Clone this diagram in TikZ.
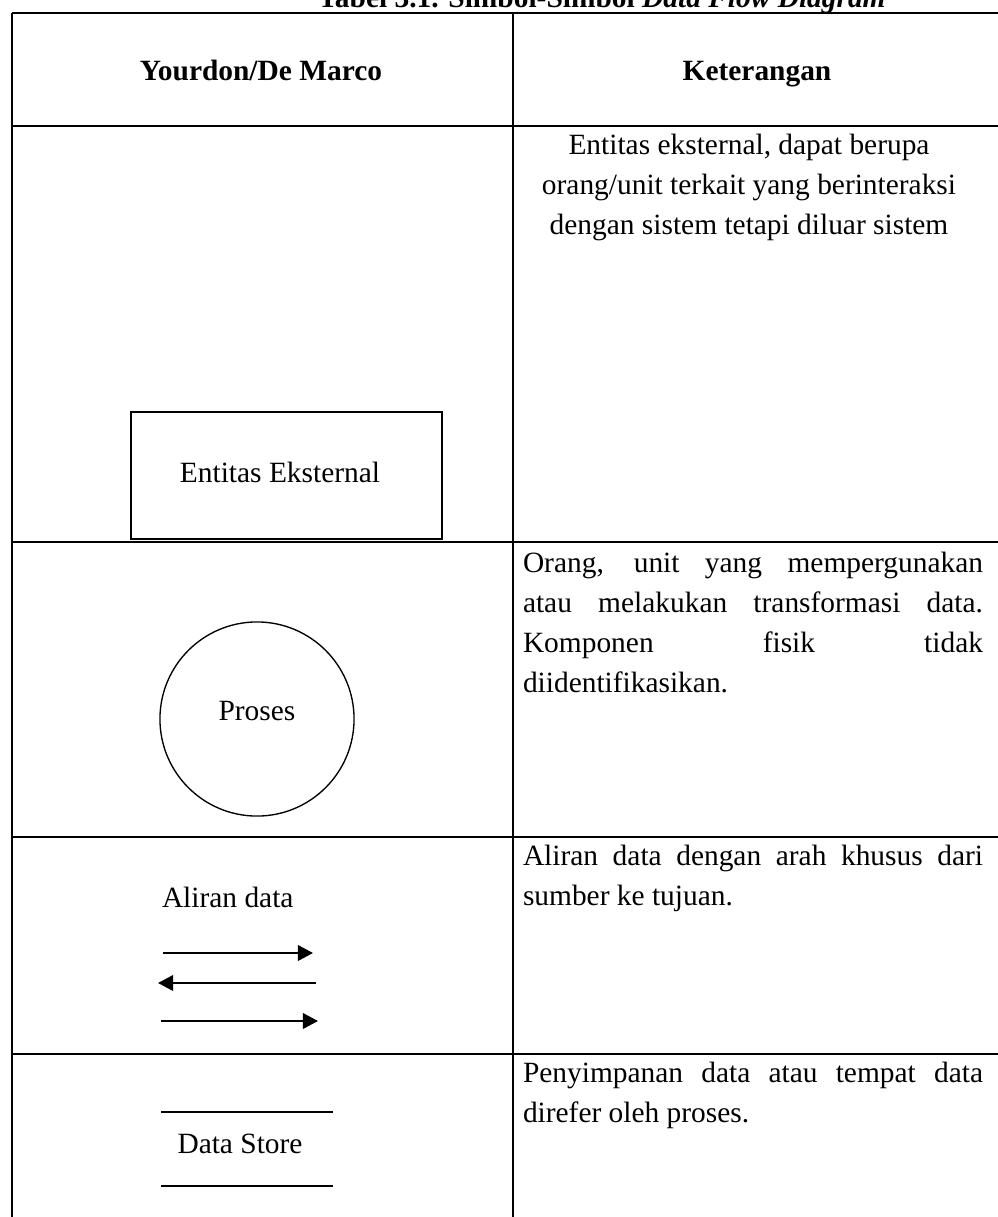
\documentclass[tikz,border=0pt]{standalone}
\usepackage{fontspec}
\setmainfont{Liberation Serif}
\usetikzlibrary{arrows.meta}
\newlength{\celltext}
\setlength{\celltext}{187.7pt}
\begin{document}
\begin{tikzpicture}[x=0.408pt,y=-0.408pt,
  every node/.style={font=\fontsize{12pt}{14pt}\selectfont, inner sep=0pt, outer sep=0pt},
  rule/.style={line width=0.85pt},
  symbol/.style={line width=0.65pt},
  thinsym/.style={line width=0.55pt},
  storeline/.style={line width=0.8pt},
  flow/.style={line width=0.8pt,-{Triangle[length=6.2pt,width=6.4pt]}},
  leftline/.style={anchor=base west},
  midline/.style={anchor=base}]
\useasboundingbox (0,0) rectangle (998,1217);

% table rules
\draw[rule] (12,13) -- (1005,13);
\draw[rule] (12,126) -- (1005,126);
\draw[rule] (12,542) -- (1005,542);
\draw[rule] (12,837) -- (1005,837);
\draw[rule] (12,1054) -- (1005,1054);
\draw[rule] (12,13) -- (12,1225);
\draw[rule] (513,13) -- (513,1225);

% caption above the table
\node[leftline] (title) at (318,7) {\bfseries Tabel 3.1. Simbol-Simbol \textit{Data Flow Diagram}};

% header row
\node[midline] (hsym) at (261,80) {\bfseries Yourdon/De Marco};
\node[midline] (hdesc) at (757,80) {\bfseries Keterangan};

% row 1: external entity
\node[midline] (d1a) at (749,154) {Entitas eksternal, dapat berupa};
\node[midline] (d1b) at (749,194) {orang/unit terkait yang berinteraksi};
\node[midline] (d1c) at (749,234) {dengan sistem tetapi diluar sistem};
\node[draw, symbol, minimum width=126.9pt, minimum height=51.8pt] (entity) at (286.5,475.5) {};
\node[midline] (entitytext) at (280,482) {Entitas Eksternal};

% row 2: process
\node[leftline] (d2a) at (523,572) {\makebox[\celltext][s]{Orang, unit yang mempergunakan}};
\node[leftline] (d2b) at (523,612) {\makebox[\celltext][s]{atau melakukan transformasi data.}};
\node[leftline] (d2c) at (523,652) {\makebox[\celltext][s]{Komponen fisik tidak}};
\node[leftline] (d2d) at (523,692) {diidentifikasikan.};
\node[draw, circle, thinsym, minimum size=79.2pt] (process) at (257,719) {};
\node[midline] (processtext) at (257,720) {Proses};

% row 3: data flow
\node[leftline] (d3a) at (523,865) {\makebox[\celltext][s]{Aliran data dengan arah khusus dari}};
\node[leftline] (d3b) at (523,905) {sumber ke tujuan.};
\node[leftline] (flowtext) at (162,907) {Aliran data};
\coordinate (f1s) at (163,953);
\coordinate (f1e) at (313,953);
\coordinate (f2s) at (316,983);
\coordinate (f2e) at (158,983);
\coordinate (f3s) at (161,1021);
\coordinate (f3e) at (318,1021);
\draw[flow] (f1s) -- (f1e);
\draw[flow] (f2s) -- (f2e);
\draw[flow] (f3s) -- (f3e);

% row 4: data store
\node[leftline] (d4a) at (523,1082) {\makebox[\celltext][s]{Penyimpanan data atau tempat data}};
\node[leftline] (d4b) at (523,1122) {direfer oleh proses.};
\coordinate (s1a) at (161,1112);
\coordinate (s1b) at (333,1112);
\coordinate (s2a) at (161,1186);
\coordinate (s2b) at (333,1186);
\draw[storeline] (s1a) -- (s1b);
\draw[storeline] (s2a) -- (s2b);
\node[midline] (storetext) at (240,1153) {Data Store};
\end{tikzpicture}
\end{document}
